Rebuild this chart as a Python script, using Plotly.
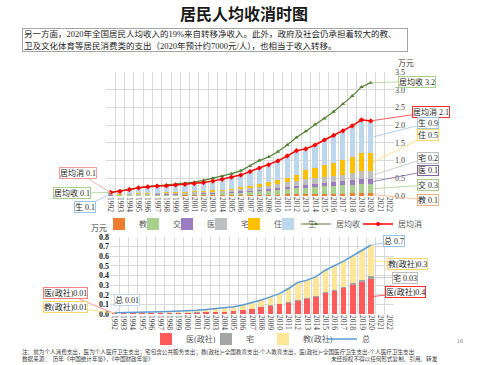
import plotly.graph_objects as go

# ---------------- data ----------------
years = ["1992", "1993", "1994", "1995", "1996", "1997", "1998", "1999", "2000", "2001",
         "2002", "2003", "2004", "2005", "2006", "2007", "2008", "2009", "2010", "2011",
         "2012", "2013", "2014", "2015", "2016", "2017", "2018", "2019", "2020", "2021", "2022"]
data_years = years[:29]

# top chart (万元): consumption components, stacked
jiao = [0.005, 0.006, 0.008, 0.010, 0.011, 0.012, 0.013, 0.014, 0.015, 0.016, 0.018, 0.019, 0.021, 0.023,
        0.025, 0.029, 0.032, 0.036, 0.040, 0.045, 0.050, 0.050, 0.055, 0.060, 0.065, 0.070, 0.075, 0.085, 0.075]
jiaotong = [0.007, 0.009, 0.012, 0.015, 0.018, 0.021, 0.024, 0.027, 0.031, 0.035, 0.040, 0.046, 0.053, 0.061,
            0.073, 0.087, 0.100, 0.115, 0.130, 0.150, 0.170, 0.190, 0.200, 0.210, 0.220, 0.230, 0.245, 0.265, 0.265]
yi = [0.005, 0.006, 0.008, 0.010, 0.011, 0.012, 0.013, 0.014, 0.015, 0.016, 0.018, 0.020, 0.023, 0.026,
      0.031, 0.036, 0.042, 0.048, 0.055, 0.062, 0.070, 0.080, 0.085, 0.090, 0.100, 0.110, 0.120, 0.130, 0.140]
zhai = [0.010, 0.013, 0.017, 0.022, 0.025, 0.027, 0.028, 0.030, 0.032, 0.034, 0.037, 0.041, 0.046, 0.052,
        0.062, 0.073, 0.085, 0.097, 0.110, 0.125, 0.140, 0.150, 0.160, 0.170, 0.180, 0.190, 0.200, 0.215, 0.225]
zhu = [0.010, 0.012, 0.016, 0.020, 0.022, 0.024, 0.025, 0.027, 0.028, 0.030, 0.033, 0.036, 0.040, 0.045,
       0.055, 0.070, 0.085, 0.100, 0.120, 0.140, 0.160, 0.250, 0.290, 0.340, 0.380, 0.420, 0.470, 0.530, 0.515]
sheng = [0.063, 0.084, 0.119, 0.153, 0.173, 0.184, 0.187, 0.198, 0.209, 0.219, 0.234, 0.258, 0.287, 0.323,
         0.344, 0.395, 0.446, 0.484, 0.535, 0.608, 0.690, 0.610, 0.650, 0.710, 0.765, 0.820, 0.870, 0.925, 0.900]
income = [0.10, 0.14, 0.19, 0.24, 0.27, 0.29, 0.31, 0.33, 0.35, 0.39, 0.44, 0.50, 0.56, 0.63,
          0.71, 0.85, 1.00, 1.10, 1.25, 1.44, 1.65, 1.83, 2.02, 2.19, 2.38, 2.60, 2.82, 3.08, 3.20]
consumption = [0.10, 0.13, 0.18, 0.23, 0.26, 0.28, 0.29, 0.31, 0.33, 0.35, 0.38, 0.42, 0.47, 0.53,
               0.59, 0.69, 0.79, 0.88, 0.99, 1.13, 1.28, 1.33, 1.44, 1.58, 1.71, 1.84, 1.98, 2.15, 2.12]

# bottom chart (万元): government/social spending
yi_gov = [0.006, 0.006, 0.006, 0.007, 0.008, 0.009, 0.010, 0.011, 0.012, 0.014, 0.016, 0.019, 0.022, 0.027,
          0.040, 0.052, 0.069, 0.083, 0.100, 0.118, 0.140, 0.156, 0.180, 0.215, 0.239, 0.267, 0.300, 0.336, 0.364]
zhai_gov = [0.001, 0.001, 0.001, 0.001, 0.001, 0.002, 0.002, 0.002, 0.002, 0.003, 0.003, 0.003, 0.003, 0.004,
            0.004, 0.005, 0.006, 0.007, 0.008, 0.009, 0.010, 0.011, 0.012, 0.013, 0.014, 0.016, 0.018, 0.020, 0.027]
jiao_gov = [0.006, 0.007, 0.007, 0.009, 0.011, 0.012, 0.015, 0.017, 0.020, 0.023, 0.028, 0.032, 0.037, 0.044,
            0.050, 0.061, 0.070, 0.088, 0.104, 0.138, 0.178, 0.185, 0.196, 0.227, 0.247, 0.267, 0.287, 0.309, 0.326]
total_gov = [0.013, 0.014, 0.014, 0.017, 0.020, 0.023, 0.027, 0.030, 0.034, 0.040, 0.047, 0.054, 0.062, 0.075,
             0.094, 0.118, 0.145, 0.178, 0.212, 0.265, 0.328, 0.352, 0.388, 0.455, 0.500, 0.550, 0.605, 0.665, 0.717]

# ---------------- layout helpers ----------------
W, H = 487, 365
FONT = "Liberation Serif, Noto Sans CJK SC, serif"
GRID = "#D9D9D9"
TXT = "#404040"

def fx(p):
    return p / W

def fy(p):
    return 1 - p / H

TOP_L, TOP_R, TOP_B, TOP_T, TOP_MAX = 106, 394, 196, 72, 3.5
BOT_L, BOT_R, BOT_B, BOT_T, BOT_MAX = 110, 394, 314, 237, 0.8
NCAT = len(years)

def top_px(i, v):
    return (TOP_L + (TOP_R - TOP_L) / NCAT * (i + 0.5), TOP_B - v * (TOP_B - TOP_T) / TOP_MAX)

def bot_px(i, v):
    return (BOT_L + (BOT_R - BOT_L) / NCAT * (i + 0.5), BOT_B - v * (BOT_B - BOT_T) / BOT_MAX)

fig = go.Figure()

top_series = [("教", jiao, "#ED7D31"), ("交", jiaotong, "#A9D18E"), ("医", yi, "#9E7CC1"),
              ("宅", zhai, "#BFBFBF"), ("住", zhu, "#FFC000"), ("生", sheng, "#BDD7EE")]
legend_x_top = [99, 133, 167, 201, 234, 268]
for k, (name, vals, col) in enumerate(top_series):
    fig.add_trace(go.Bar(x=data_years, y=vals, name=name, marker=dict(color=col, line=dict(width=0)),
                         width=0.55, xaxis="x", yaxis="y", legend="legend" if k == 0 else f"legend{k+1}"))

fig.add_trace(go.Scatter(x=data_years, y=income, name="居均收", mode="lines+markers",
                         line=dict(color="#548235", width=1.2),
                         marker=dict(symbol="triangle-up", size=4, color="#548235"),
                         xaxis="x", yaxis="y", legend="legend7"))
fig.add_trace(go.Scatter(x=data_years, y=consumption, name="居均消", mode="lines+markers",
                         line=dict(color="#FF0000", width=1.5),
                         marker=dict(symbol="diamond", size=4, color="#FF0000"),
                         xaxis="x", yaxis="y", legend="legend8"))

bot_series = [("医(政社)", yi_gov, "#FF5B5B"), ("宅", zhai_gov, "#A5A5A5"), ("教(政社)", jiao_gov, "#FFE699")]
for k, (name, vals, col) in enumerate(bot_series):
    fig.add_trace(go.Bar(x=data_years, y=vals, name=name, marker=dict(color=col, line=dict(width=0)),
                         width=0.6, xaxis="x2", yaxis="y2", legend=f"legend{9+k}"))
fig.add_trace(go.Scatter(x=data_years, y=total_gov, name="总", mode="lines",
                         line=dict(color="#5B9BD5", width=1.5),
                         xaxis="x2", yaxis="y2", legend="legend12"))

# legends (one per item to mimic compact Excel legend spacing)
legend_layout = {}
leg_pos = legend_x_top + [296, 358] + [146, 206, 263, 322]
leg_y = [224] * 8 + [339] * 4
for k in range(12):
    key = "legend" if k == 0 else f"legend{k+1}"
    legend_layout[key] = dict(x=fx(leg_pos[k]), y=fy(leg_y[k]), xanchor="left", yanchor="middle",
                              orientation="h", bgcolor="rgba(0,0,0,0)", borderwidth=0,
                              font=dict(family=FONT, size=8, color="#595959"), itemwidth=30)

# ---------------- annotations ----------------
ann = []

def label(text, i, v, bx, by, color, which="top"):
    px, py = top_px(i, v) if which == "top" else bot_px(i, v)
    ref = ("x", "y") if which == "top" else ("x2", "y2")
    ann.append(dict(x=i, y=v, xref=ref[0], yref=ref[1], text=text, showarrow=True, arrowhead=0,
                    arrowwidth=0.8, arrowcolor=color, ax=bx - px, ay=by - py, standoff=0,
                    bordercolor=color, borderwidth=1, borderpad=0, bgcolor="white",
                    font=dict(family=FONT, size=8, color="#262626")))

last = len(data_years) - 1
edge = last + 0.28

# left side (1992)
label(f"居均消 {consumption[0]:.1f}", 0, consumption[0], 78, 172.5, "#F4A0A0")
label(f"居均收 {income[0]:.1f}", 0, income[0], 72, 193, "#A9D18E")
base0 = jiao[0] + jiaotong[0] + yi[0] + zhai[0] + zhu[0]
label(f"生 {sheng[0]:.1f}", 0, base0 + sheng[0] / 2, 85, 207, "#9DC3E6")

# right side (2020)
label(f"居均收 {income[last]:.1f}", last, income[last], 417, 81.5, "#A9D18E")
label(f"居均消 {consumption[last]:.1f}", last, consumption[last], 431, 112, "#FF3030")
cum = 0.0
mids = []
for name, vals, col in top_series:
    mids.append(cum + vals[last] / 2)
    cum += vals[last]
box_y = {"教": 200, "交": 185, "医": 171, "宅": 157.5, "住": 135, "生": 123}
box_c = {"教": "#F4B183", "交": "#A9D18E", "医": "#8064A2", "宅": "#BFBFBF", "住": "#FFD966", "生": "#9DC3E6"}
for (name, vals, col), m in zip(top_series, mids):
    label(f"{name} {vals[last]:.1f}", edge, m, 428, box_y[name], box_c[name])

# bottom chart labels
label(f"医(政社){yi_gov[0]:.2f}", 0, yi_gov[0] / 2, 66, 293.5, "#FF7C80", "bot")
label(f"教(政社){jiao_gov[0]:.2f}", 0, yi_gov[0] + zhai_gov[0] + jiao_gov[0] / 2, 66, 307, "#FFD966", "bot")
label(f"总 {total_gov[0]:.2f}", 0, total_gov[0], 127, 300, "#BDD7EE", "bot")
label(f"总 {total_gov[last]:.1f}", last, total_gov[last], 394, 241, "#9DC3E6", "bot")
label(f"教(政社){jiao_gov[last]:.1f}", edge, yi_gov[last] + zhai_gov[last] + jiao_gov[last] / 2, 408, 264, "#FFD966", "bot")
label(f"宅 {zhai_gov[last]:.2f}", edge, yi_gov[last] + zhai_gov[last] / 2, 405, 277.5, "#BFBFBF", "bot")
label(f"医(政社){yi_gov[last]:.1f}", edge, yi_gov[last] / 2, 406, 292.5, "#FF3030", "bot")

# titles and texts
ann.append(dict(x=fx(243.5), y=fy(12.5), xref="paper", yref="paper", text="<b>居民人均收消时图</b>", showarrow=False,
                font=dict(family="Noto Sans CJK SC", size=16, color="#1a1a1a"), xanchor="center", yanchor="middle"))
ann.append(dict(x=fx(22), y=fy(28), xref="paper", yref="paper", xanchor="left", yanchor="top",
                text="另一方面，2020年全国居民人均收入的19%来自转移净收入。此外，政府及社会仍承担着较大的教、<br>"
                     "卫及文化体育等居民消费类的支出（2020年预计约7000元/人），也相当于收入转移。",
                showarrow=False, align="left", width=382, height=20, borderpad=1,
                bordercolor="#A6A6A6", borderwidth=1,
                font=dict(family=FONT, size=8.5, color="#262626")))
ann.append(dict(x=fx(406), y=fy(63), xref="paper", yref="paper", text="万元", showarrow=False,
                font=dict(family=FONT, size=8, color=TXT), xanchor="center", yanchor="middle"))
ann.append(dict(x=fx(99), y=fy(228), xref="paper", yref="paper", text="万元", showarrow=False,
                font=dict(family=FONT, size=8, color=TXT), xanchor="center", yanchor="middle"))
ann.append(dict(x=fx(460), y=fy(341), xref="paper", yref="paper", text="16", showarrow=False,
                font=dict(family=FONT, size=6, color="#7F7F7F"), xanchor="center", yanchor="middle"))
ann.append(dict(x=fx(20), y=fy(352), xref="paper", yref="paper", xanchor="left", yanchor="middle",
                text="注：前为个人消费支出，医为个人医疗卫生支出；宅包含公共服务支出；教(政社)=全国教育支出-个人教育支出，医(政社)=全国医疗卫生支出-个人医疗卫生支出",
                showarrow=False, font=dict(family=FONT, size=5.6, color="#404040")))
ann.append(dict(x=fx(20), y=fy(359), xref="paper", yref="paper", xanchor="left", yanchor="middle",
                text="数据来源：  历年《中国统计年鉴》，《中国财政年鉴》", showarrow=False,
                font=dict(family=FONT, size=5.6, color="#404040")))
ann.append(dict(x=fx(440), y=fy(359), xref="paper", yref="paper", xanchor="right", yanchor="middle",
                text="未经授权不得以任何形式复制、引用、转发", showarrow=False,
                font=dict(family=FONT, size=5.6, color="#404040")))

xaxis_common = dict(type="category", categoryorder="array", categoryarray=years, range=[-0.5, NCAT - 0.5],
                    tickson="boundaries", showgrid=True, gridcolor=GRID, gridwidth=1, ticks="",
                    tickangle=90, showline=False, zeroline=False, fixedrange=True, automargin=False,
                    dtick=1, tickmode="linear", tick0=0)

fig.update_layout(
    width=W, height=H, autosize=False,
    margin=dict(l=0, r=0, t=0, b=0, pad=0, autoexpand=False),
    paper_bgcolor="white", plot_bgcolor="white",
    barmode="stack", bargap=0.45,
    showlegend=True,
    xaxis=dict(**xaxis_common, domain=[fx(TOP_L), fx(TOP_R)], anchor="y",
               tickfont=dict(family=FONT, size=7.5, color=TXT)),
    yaxis=dict(domain=[fy(TOP_B), fy(TOP_T)], anchor="x", side="right", range=[0, TOP_MAX], dtick=0.5,
               tickformat=".1f", showgrid=True, gridcolor=GRID, gridwidth=1, zeroline=False,
               automargin=False, tickfont=dict(family=FONT, size=8, color=TXT), ticks=""),
    xaxis2=dict(**xaxis_common, domain=[fx(BOT_L), fx(BOT_R)], anchor="y2",
                tickfont=dict(family=FONT, size=7.5, color=TXT)),
    yaxis2=dict(domain=[fy(BOT_B), fy(BOT_T)], anchor="x2", side="left", range=[0, BOT_MAX], dtick=0.1,
                tickformat=".1f", showgrid=True, gridcolor=GRID, gridwidth=1, zeroline=False,
                automargin=False, tickfont=dict(family=FONT, size=8, color="#1a1a1a", weight="bold"), ticks=""),
    annotations=ann,
    **legend_layout,
)

fig.write_html("out.html", config={"displayModeBar": False, "staticPlot": True},
               post_script="document.body.style.margin='0';document.body.style.overflow='hidden';")
